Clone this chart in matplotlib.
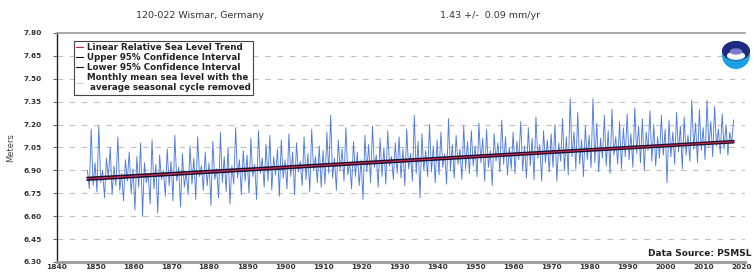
import numpy as np
import matplotlib
matplotlib.use("Agg")
import matplotlib.pyplot as plt
from matplotlib.patches import Circle, Ellipse
from matplotlib.lines import Line2D

# ---- data ----
start_year = 1848.0
step = 0.5
sea_level = [
    6.90, 6.78, 7.17, 6.80,
    6.95, 6.76, 7.19, 6.82, 6.90, 6.72, 6.98, 6.85, 7.05, 6.74, 6.93, 6.80, 7.12, 6.77, 6.88, 6.70, 6.97, 6.83, 7.02, 6.75,
    6.91, 6.64, 6.99, 6.79, 7.08, 6.60, 6.95, 6.82, 6.88, 6.68, 7.10, 6.78, 6.94, 6.62, 7.00, 6.84, 6.90, 6.73, 7.04, 6.80,
    6.96, 6.70, 7.13, 6.83, 6.92, 6.66, 7.01, 6.79, 6.89, 6.74, 7.06, 6.81, 6.98, 6.71, 7.12, 6.86, 6.93, 6.77, 7.02, 6.80,
    6.95, 6.67, 7.09, 6.84, 6.91, 6.72, 7.15, 6.82, 6.99, 6.76, 7.05, 6.68, 6.93, 6.81, 7.18, 6.85, 6.97, 6.74, 7.03, 6.83,
    7.00, 6.75, 7.11, 6.86, 6.94, 6.71, 7.16, 6.88, 6.98, 6.79, 7.07, 6.83, 7.13, 6.77, 6.99, 6.87, 7.04, 6.73, 7.10, 6.85,
    6.97, 6.78, 7.14, 6.86, 7.02, 6.74, 7.08, 6.89, 6.96, 6.80, 7.12, 6.84, 7.01, 6.76, 7.17, 6.90, 6.99, 6.82, 7.06, 6.79,
    7.03, 6.81, 7.15, 6.88, 7.26, 6.85, 6.98, 6.77, 7.10, 6.90, 7.04, 6.83, 7.18, 6.87, 6.95, 6.78, 7.09, 6.86, 7.02, 6.80,
    6.97, 6.71, 7.13, 6.89, 7.07, 6.82, 7.19, 6.92, 7.00, 6.79, 7.11, 6.86, 7.05, 6.81, 7.16, 6.93, 6.99, 6.84, 7.08, 6.88,
    7.12, 6.85, 7.04, 6.80, 7.17, 6.91, 7.01, 6.83, 7.26, 6.88, 7.09, 6.72, 7.14, 6.90, 7.03, 6.86, 7.20, 6.89, 7.06, 6.82,
    7.10, 6.87, 7.15, 6.92, 7.01, 6.81, 7.24, 6.90, 7.07, 6.85, 7.13, 6.94, 7.04, 6.84, 7.19, 6.91, 7.09, 6.88, 7.16, 6.93,
    7.06, 6.86, 7.21, 6.95, 7.11, 6.83, 7.17, 6.92, 7.03, 6.80, 7.14, 6.96, 7.08, 6.89, 7.23, 6.94, 7.12, 6.87, 7.05, 6.91,
    7.15, 6.88, 7.09, 6.97, 7.22, 6.90, 7.06, 6.85, 7.18, 6.93, 7.11, 6.84, 7.25, 6.98, 7.07, 6.83, 7.16, 6.95, 7.10, 6.89,
    7.14, 6.92, 7.20, 6.83, 7.08, 6.96, 7.24, 6.90, 7.12, 6.87, 7.37, 6.99, 7.15, 6.91, 7.28, 6.94, 7.10, 6.86, 7.19, 6.97,
    7.13, 6.92, 7.37, 6.95, 7.21, 6.89, 7.11, 6.98, 7.26, 6.93, 7.16, 6.88, 7.30, 7.00, 7.12, 6.94, 7.22, 6.91, 7.18, 6.99,
    7.27, 6.97, 7.14, 6.92, 7.31, 7.01, 7.19, 6.95, 7.24, 6.90, 7.15, 7.03, 7.29, 6.96, 7.20, 6.93, 7.12, 6.98, 7.26, 7.00,
    7.17, 6.82, 7.23, 6.99, 7.15, 6.94, 7.28, 7.02, 7.19, 6.91, 7.25, 7.00, 7.13, 6.96, 7.36, 7.04, 7.21, 6.95, 7.30, 7.03,
    7.18, 6.97, 7.36, 7.05, 7.22, 6.99, 7.32, 7.06, 7.17, 7.01, 7.27, 7.04, 7.20, 7.00, 7.15, 7.08, 7.23,
]
trend_years = [1848.0, 2018.0]
trend_vals = [6.845, 7.088]
upper_vals = [6.853, 7.094]
lower_vals = [6.837, 7.082]
y_ticks = [6.30, 6.45, 6.60, 6.75, 6.90, 7.05, 7.20, 7.35, 7.50, 7.65, 7.80]
x_ticks = list(range(1840, 2021, 10))

years = start_year + step * np.arange(len(sea_level))

W, H = 754, 275
fig = plt.figure(figsize=(W / 100, H / 100), dpi=100)
ax = fig.add_axes([57 / W, 1 - 262 / H, (745 - 57) / W, (262 - 33) / H])

ax.plot(years, sea_level, color="#4f7be0", lw=0.65, zorder=2)
ax.plot(trend_years, upper_vals, color="#1a1030", lw=1.3, zorder=3)
ax.plot(trend_years, lower_vals, color="#1a1030", lw=1.3, zorder=3)
ax.plot(trend_years, trend_vals, color="#d02040", lw=0.8, zorder=4)

ax.set_xlim(1840, 2021)
ax.set_ylim(6.30, 7.80)
ax.set_yticks(y_ticks)
ax.set_yticklabels([f"{v:.2f}" for v in y_ticks])
ax.set_xticks(x_ticks)
ax.set_xticklabels([str(v) for v in x_ticks])
ax.tick_params(axis="both", labelsize=5.3, colors="#444444", length=3, width=0.6)
for lab in ax.get_xticklabels() + ax.get_yticklabels():
    lab.set_fontweight("bold")
    lab.set_color("#333333")
ax.tick_params(axis="x", length=0, pad=1.5)
ax.tick_params(axis="y", pad=8)

for v in y_ticks[1:-1]:
    ax.axhline(v, color="#c0c0c0", lw=0.8, ls=(0, (5, 6)), zorder=1)

ax.spines["left"].set_color("#222222")
ax.spines["left"].set_linewidth(1.0)
ax.spines["bottom"].set_color("#999999")
ax.spines["bottom"].set_linewidth(2.0)
ax.spines["top"].set_color("#999999")
ax.spines["top"].set_linewidth(1.2)
ax.spines["right"].set_visible(False)

ax.set_ylabel("Meters", fontsize=6, color="#444444", labelpad=6)

handles = [
    Line2D([], [], color="#d02040", lw=0.8),
    Line2D([], [], color="#1a1030", lw=0.8),
    Line2D([], [], color="#1a1030", lw=0.8),
    Line2D([], [], color="#c8d4f0", lw=0.8),
]
labels = [
    "Linear Relative Sea Level Trend",
    "Upper 95% Confidence Interval",
    "Lower 95% Confidence Interval",
    "Monthly mean sea level with the\n average seasonal cycle removed",
]
leg = ax.legend(handles, labels, loc="upper left", bbox_to_anchor=(0.018, 0.985),
                handlelength=0.8, handletextpad=0.4, borderpad=0.3,
                labelspacing=0.1, frameon=True, fancybox=False, framealpha=1,
                edgecolor="#444444", prop={"weight": "bold", "size": 6.3})
leg.get_frame().set_linewidth(0.8)
for t in leg.get_texts():
    t.set_color("#222222")

fig.text(200 / W, 1 - 16 / H, "120-022 Wismar, Germany", ha="center", va="center",
         fontsize=6.8, color="#333333")
fig.text(490 / W, 1 - 16 / H, "1.43 +/-  0.09 mm/yr", ha="center", va="center",
         fontsize=6.8, color="#333333")
fig.text(752 / W, 1 - 253 / H, "Data Source: PSMSL", ha="right", va="center",
         fontsize=6.5, fontweight="bold", color="#222222")

# NOAA-style logo
lax = fig.add_axes([722 / W, 1 - 69 / H, 28 / W, 28 / H])
lax.set_xlim(-1, 1)
lax.set_ylim(-1, 1)
lax.set_aspect("equal")
lax.axis("off")
lax.add_patch(Circle((0, 0), 0.95, color="#1ba0e0"))
lax.add_patch(Ellipse((0, 0.3), 1.9, 1.3, color="#1c2a80"))
lax.add_patch(Ellipse((0, -0.05), 1.2, 0.5, color="white"))
lax.add_patch(Ellipse((0, 0.25), 0.8, 0.35, color="#7a7ad0"))

fig.savefig("out.png", dpi=100)
